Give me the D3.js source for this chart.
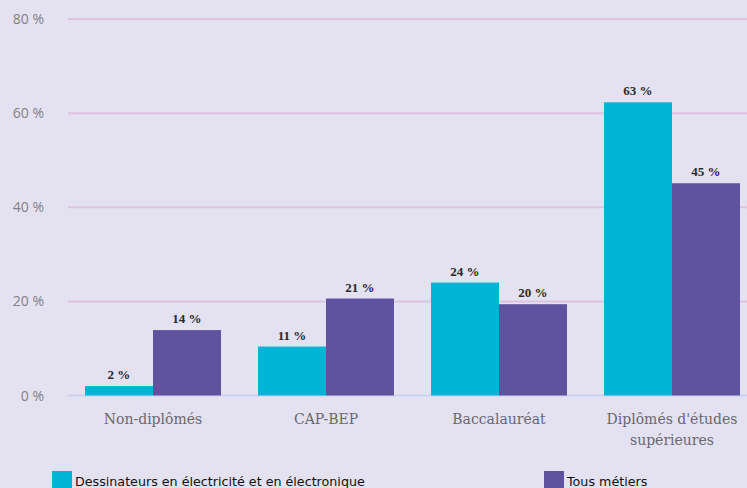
<!DOCTYPE html>
<html>
<head>
<meta charset="utf-8">
<script src="https://cdn.jsdelivr.net/npm/d3@7"></script>
<style>
  body { margin: 0; background: #e4e1f0; overflow: hidden; }
  svg { display: block; }
</style>
</head>
<body>
<svg id="chart" width="747" height="488"></svg>
<script>
// niveaux de diplome
const categories = ["Non-diplômés", "CAP-BEP", "Baccalauréat", "Diplômés d'études supérieures"];
const seriesNames = ["Dessinateurs en électricité et en électronique", "Tous métiers"];
const dessinateurs = [2.0, 10.4, 24.0, 62.3];
const tousMetiers = [13.9, 20.6, 19.4, 45.1];
const dessinateursLabels = ["2 %", "11 %", "24 %", "63 %"];
const tousMetiersLabels = ["14 %", "21 %", "20 %", "45 %"];
const yTicks = [0, 20, 40, 60, 80];

const colors = ["#00b4d5", "#5f529f"];

const svg = d3.select("#chart");

const x0 = d3.scaleBand()
    .domain(categories)
    .range([66.5, 758.5])
    .paddingInner(0.214)
    .paddingOuter(0.107);

const x1 = d3.scaleBand()
    .domain([0, 1])
    .range([0, x0.bandwidth()]);

const y = d3.scaleLinear()
    .domain([0, 80])
    .range([395.5, 19]);

// grille
svg.selectAll("line.grid")
    .data(yTicks)
    .join("line")
    .attr("class", "grid")
    .attr("x1", 68)
    .attr("x2", 747)
    .attr("y1", d => y(d))
    .attr("y2", d => y(d))
    .attr("stroke", d => d === 0 ? "#cdd3ee" : "#dcc3e0")
    .attr("stroke-width", 2);

svg.selectAll("text.ytick")
    .data(yTicks)
    .join("text")
    .attr("class", "ytick")
    .attr("x", 44)
    .attr("y", d => y(d) + 5)
    .attr("text-anchor", "end")
    .attr("font-family", "'Open Sans', sans-serif")
    .attr("font-size", 14)
    .attr("fill", "#828088")
    .text(d => d + " %");

const rows = categories.map((c, i) => ({
    cat: c,
    vals: [
        {k: 0, v: dessinateurs[i], label: dessinateursLabels[i]},
        {k: 1, v: tousMetiers[i], label: tousMetiersLabels[i]}
    ]
}));

const groups = svg.selectAll("g.group")
    .data(rows)
    .join("g")
    .attr("class", "group")
    .attr("transform", d => `translate(${x0(d.cat)},0)`);

groups.selectAll("rect")
    .data(d => d.vals)
    .join("rect")
    .attr("x", d => x1(d.k))
    .attr("y", d => y(d.v))
    .attr("width", x1.bandwidth())
    .attr("height", d => y(0) - y(d.v))
    .attr("fill", d => colors[d.k]);

groups.selectAll("text.val")
    .data(d => d.vals)
    .join("text")
    .attr("class", "val")
    .attr("x", d => x1(d.k) + x1.bandwidth() / 2)
    .attr("y", d => y(d.v) - 7)
    .attr("text-anchor", "middle")
    .attr("font-family", "'Liberation Serif', serif")
    .attr("font-weight", "bold")
    .attr("font-size", 13)
    .attr("fill", "#2a2a2a")
    .text(d => d.label);

// etiquettes des categories
const catLines = {
    "Diplômés d'études supérieures": ["Diplômés d'études", "supérieures"]
};

svg.selectAll("text.cat")
    .data(categories)
    .join("text")
    .attr("class", "cat")
    .attr("x", d => x0(d) + x0.bandwidth() / 2)
    .attr("y", 424)
    .attr("text-anchor", "middle")
    .attr("font-family", "'DejaVu Serif', serif")
    .attr("font-size", 14)
    .attr("fill", "#6a6870")
    .each(function(d) {
        const lines = catLines[d] || [d];
        d3.select(this).selectAll("tspan")
            .data(lines)
            .join("tspan")
            .attr("x", x0(d) + x0.bandwidth() / 2)
            .attr("dy", (l, i) => i === 0 ? 0 : 21)
            .text(l => l);
    });

// legende
const legendX = [52, 544];
const legend = svg.selectAll("g.legend")
    .data(seriesNames)
    .join("g")
    .attr("class", "legend")
    .attr("transform", (d, i) => `translate(${legendX[i]},471)`);

legend.append("rect")
    .attr("width", 20)
    .attr("height", 20)
    .attr("fill", (d, i) => colors[i]);

legend.append("text")
    .attr("x", 23)
    .attr("y", 14.5)
    .attr("font-family", "'DejaVu Sans', sans-serif")
    .attr("font-size", 12.7)
    .attr("fill", "#111")
    .text(d => d);
</script>
</body>
</html>
